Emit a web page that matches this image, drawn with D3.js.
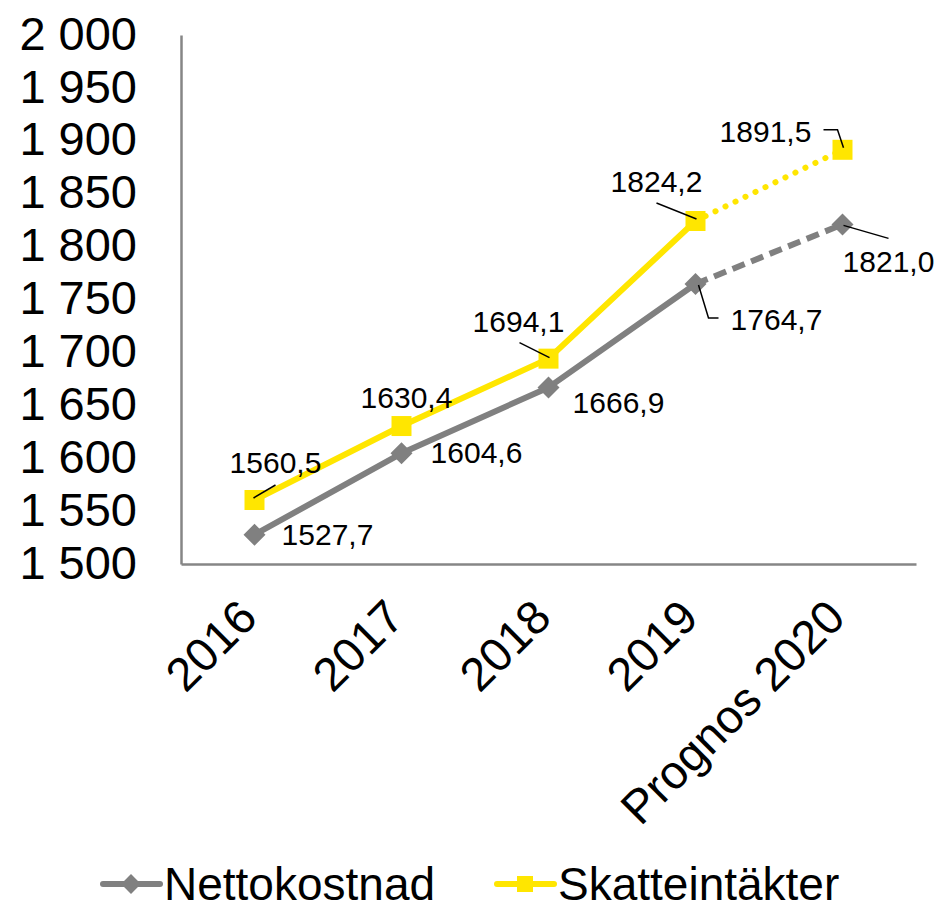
<!DOCTYPE html>
<html>
<head>
<meta charset="utf-8">
<script src="https://cdn.jsdelivr.net/npm/d3@7"></script>
<style>
  body { margin: 0; background: #fff; }
  svg { font-family: "Liberation Sans", Arial, sans-serif; }
</style>
</head>
<body>
<svg id="chart" width="943" height="910"></svg>
<script>
// data
const categories = ["2016", "2017", "2018", "2019", "Prognos 2020"];
const nettokostnad = [1527.7, 1604.6, 1666.9, 1764.7, 1821.0];
const skatteintakter = [1560.5, 1630.4, 1694.1, 1824.2, 1891.5];
const seriesNames = ["Nettokostnad", "Skatteintäkter"];
const yTicks = [1500, 1550, 1600, 1650, 1700, 1750, 1800, 1850, 1900, 1950, 2000];

// label placement relative to the point: [dx, dy] of text, plus leader line points
const nettoLabels = [
  { dx: 73, dy: 10 },
  { dx: 75, dy: 10 },
  { dx: 70, dy: 26 },
  { dx: 81, dy: 46, leader: [[3, 1], [13, 34], [23, 34]] },
  { dx: 46, dy: 48, leader: [[1, 1], [46, 14]] }
];
const skattLabels = [
  { dx: 21, dy: -27, leader: [[-1, -2], [21, -15]] },
  { dx: 5, dy: -18 },
  { dx: -30, dy: -27, leader: [[-29, -16], [1, -1]] },
  { dx: -39, dy: -29, leader: [[-39, -18], [1, -2]] },
  { dx: -77, dy: -8, leader: [[-19, -20], [-5, -20], [1, -2]] }
];

const grey = "#808080";
const yellow = "#FFE600";
const axisColor = "#868686";

const svg = d3.select("#chart");

const x = d3.scaleBand().domain(categories).range([181, 916]).padding(0);
const cx = d => x(d) + x.bandwidth() / 2;
const y = d3.scaleLinear().domain([1500, 2000]).range([564, 35]);

const tickFmt = d3.formatLocale({ decimal: ",", thousands: " ", grouping: [3], currency: ["", ""] }).format(",d");
const valFmt = d3.formatLocale({ decimal: ",", thousands: "", grouping: [3], currency: ["", ""] }).format(".1f");

// y axis
const yAxis = svg.append("g")
  .attr("transform", "translate(181,0)")
  .call(d3.axisLeft(y).tickValues(yTicks).tickFormat(tickFmt).tickSize(0).tickPadding(44));
yAxis.select(".domain").attr("stroke", axisColor).attr("stroke-width", 2.5);
yAxis.selectAll("text").attr("font-size", 47).attr("fill", "#000").attr("dy", "0.3em");

// x axis
const xAxis = svg.append("g")
  .attr("transform", "translate(0,564)")
  .call(d3.axisBottom(x).tickSize(0).tickFormat(""));
xAxis.select(".domain").attr("stroke", axisColor).attr("stroke-width", 2.5);

svg.append("g").selectAll("text")
  .data(categories)
  .join("text")
  .attr("transform", d => `translate(${cx(d) + 5},620) rotate(-45)`)
  .attr("text-anchor", "end")
  .attr("font-size", 47)
  .text(d => d);

const line = d3.line().x(d => cx(d.c)).y(d => y(d.v));

function drawSeries(values, color, forecastDash, marker, labels) {
  const pts = values.map((v, i) => ({ c: categories[i], v }));
  const g = svg.append("g");
  g.append("path")
    .attr("d", line(pts.slice(0, 4)))
    .attr("fill", "none")
    .attr("stroke", color)
    .attr("stroke-width", 6)
    .attr("stroke-linejoin", "round");
  g.append("path")
    .attr("d", line(pts.slice(3)))
    .attr("fill", "none")
    .attr("stroke", color)
    .attr("stroke-width", 6)
    .attr("stroke-linecap", forecastDash.cap)
    .attr("stroke-dasharray", forecastDash.dash);

  g.selectAll(".mk")
    .data(pts)
    .join("path")
    .attr("transform", d => `translate(${cx(d.c)},${y(d.v)})`)
    .attr("d", marker)
    .attr("fill", color);

  pts.forEach((d, i) => {
    const px = cx(d.c), py = y(d.v), lb = labels[i];
    if (lb.leader) {
      g.append("path")
        .attr("d", d3.line()(lb.leader.map(p => [px + p[0], py + p[1]])))
        .attr("fill", "none")
        .attr("stroke", "#000")
        .attr("stroke-width", 1.5);
    }
    g.append("text")
      .attr("x", px + lb.dx)
      .attr("y", py + lb.dy)
      .attr("text-anchor", "middle")
      .attr("font-size", 30)
      .text(valFmt(d.v));
  });
}

const diamond = "M0,-11L11,0L0,11L-11,0Z";
const square = "M-10,-10H10V10H-10Z";

drawSeries(nettokostnad, grey, { dash: "13 7", cap: "butt" }, diamond, nettoLabels);
drawSeries(skatteintakter, yellow, { dash: "0.1 11", cap: "round" }, square, skattLabels);

// legend
const legend = [
  { name: seriesNames[0], color: grey, marker: diamond, x: 103 },
  { name: seriesNames[1], color: yellow, marker: square, x: 497 }
];
const lg = svg.append("g").attr("transform", "translate(0,884)");
legend.forEach(l => {
  lg.append("line")
    .attr("x1", l.x).attr("x2", l.x + 57)
    .attr("stroke", l.color).attr("stroke-width", 6).attr("stroke-linecap", "round");
  lg.append("path")
    .attr("transform", `translate(${l.x + 28},0) scale(${l.marker === diamond ? 0.9 : 0.8})`)
    .attr("d", l.marker)
    .attr("fill", l.color);
  lg.append("text")
    .attr("x", l.x + 61)
    .attr("y", 16)
    .attr("font-size", 46)
    .text(l.name);
});
</script>
</body>
</html>
